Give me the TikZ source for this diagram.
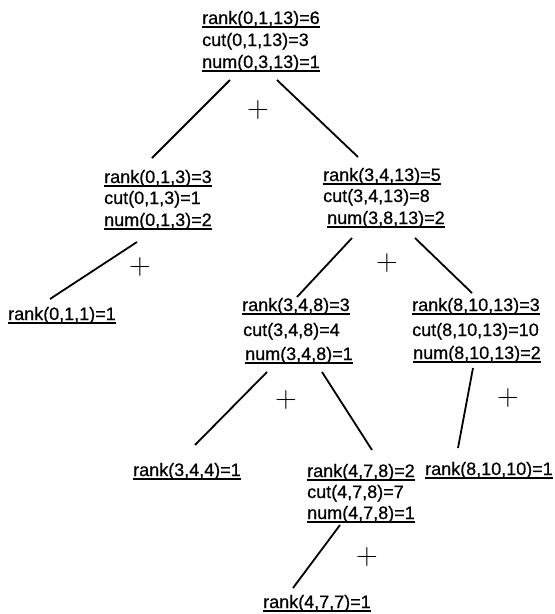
\documentclass[tikz,border=0pt]{standalone}
\usepackage{graphicx}
\usepackage{fontspec}
\setmainfont{Liberation Sans}[FakeBold=0.6]
\newcommand{\ulx}[1]{\setbox0\hbox{#1}\rlap{\rule[-3.5pt]{\wd0}{1.5pt}}\box0}
\newcommand{\pluss}{\scalebox{1.45}{$+$}}
\begin{document}
\begin{tikzpicture}[x=1pt,y=-1pt,
  lbl/.style={anchor=base west,inner sep=0pt,font=\fontsize{18}{22}\selectfont},
  pls/.style={inner sep=0pt,font=\fontsize{20}{20}\selectfont},
  conn/.style={line width=1.8pt}]
\fill[white] (0,0) rectangle (555,614);
\useasboundingbox (0,0) rectangle (555,614);
% root
\node[lbl] (A1) at (202,24) {\ulx{rank(0,1,13)=6}};
\node[lbl] (A2) at (202,46) {cut(0,1,13)=3};
\node[lbl] (A3) at (202,68) {\ulx{num(0,3,13)=1}};
% (0,1,3)
\node[lbl] (B1) at (104,183) {\ulx{rank(0,1,3)=3}};
\node[lbl] (B2) at (104,204) {cut(0,1,3)=1};
\node[lbl] (B3) at (104,226) {\ulx{num(0,1,3)=2}};
% (3,4,13)
\node[lbl] (C1) at (323,181) {\ulx{rank(3,4,13)=5}};
\node[lbl] (C2) at (323,202) {cut(3,4,13)=8};
\node[lbl] (C3) at (327,224) {\ulx{num(3,8,13)=2}};
% leaf (0,1,1)
\node[lbl] (D) at (8,320) {\ulx{rank(0,1,1)=1}};
% (3,4,8)
\node[lbl] (E1) at (242,311) {\ulx{rank(3,4,8)=3}};
\node[lbl] (E2) at (243,336) {cut(3,4,8)=4};
\node[lbl] (E3) at (245,360) {\ulx{num(3,4,8)=1}};
% (8,10,13)
\node[lbl] (F1) at (412,311) {\ulx{rank(8,10,13)=3}};
\node[lbl] (F2) at (412,336) {cut(8,10,13)=10};
\node[lbl] (F3) at (413,359) {\ulx{num(8,10,13)=2}};
% leaves and (4,7,8)
\node[lbl] (G) at (133,476) {\ulx{rank(3,4,4)=1}};
\node[lbl] (H1) at (307,477) {\ulx{rank(4,7,8)=2}};
\node[lbl] (H2) at (307,498) {cut(4,7,8)=7};
\node[lbl] (H3) at (307,519) {\ulx{num(4,7,8)=1}};
\node[lbl] (I) at (425,475) {\ulx{rank(8,10,10)=1}};
\node[lbl] (J) at (263,608) {\ulx{rank(4,7,7)=1}};
% plus signs
\node[pls] (p1) at (258,110) {\pluss};
\node[pls] (p2) at (140,267) {\pluss};
\node[pls] (p3) at (387,263) {\pluss};
\node[pls] (p4) at (286,400) {\pluss};
\node[pls] (p5) at (508,398) {\pluss};
\node[pls] (p6) at (367,557) {\pluss};
% connectors
\draw[conn] ([shift={(28,12)}]A3.base west) -- ([shift={(48,-25)}]B1.base west);
\draw[conn] ([shift={(75,12)}]A3.base west) -- ([shift={(35,-24)}]C1.base west);
\draw[conn] ([shift={(33,16)}]B3.base west) -- ([shift={(42,-21)}]D.base west);
\draw[conn] ([shift={(25,14)}]C3.base west) -- ([shift={(55,-14)}]E1.base west);
\draw[conn] ([shift={(88,14)}]C3.base west) -- ([shift={(60,-18)}]F1.base west);
\draw[conn] ([shift={(22,12)}]E3.base west) -- ([shift={(62,-31)}]G.base west);
\draw[conn] ([shift={(77,12)}]E3.base west) -- ([shift={(65,-27)}]H1.base west);
\draw[conn] ([shift={(60,9)}]F3.base west) -- ([shift={(33,-27)}]I.base west);
\draw[conn] ([shift={(33,6)}]H3.base west) -- ([shift={(30,-20)}]J.base west);
\end{tikzpicture}
\end{document}
